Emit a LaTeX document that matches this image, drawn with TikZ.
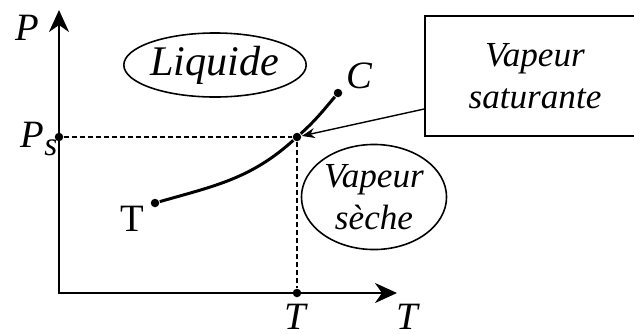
\documentclass[tikz,border=0pt]{standalone}
\usepackage{fontspec}
\setmainfont{Liberation Serif}[ItalicFont={Liberation Serif Italic}]
\usepackage{tikz}
\usetikzlibrary{arrows.meta,positioning,calc,shapes.geometric}

\tikzset{
  dot/.style={circle,fill,inner sep=0pt,minimum size=0.085cm},
  zone/.style={draw,ellipse,inner sep=0pt,line width=0.45pt,font=\itshape,align=center},
  axe/.style={line width=0.6pt,-{Stealth[length=0.22cm,width=0.2cm,inset=0.07cm]}},
  rappel/.style={dashed,line width=0.45pt,dash pattern=on 0.05cm off 0.03cm},
}

\begin{document}
\begin{tikzpicture}[x=0.01cm,y=-0.01cm,font=\fontsize{11}{13.5}\selectfont]
  \useasboundingbox (0,0) rectangle (634,333);
  % axes
  \coordinate (O) at (59,293);
  \coordinate (Ptop) at (59,10);
  \coordinate (Tend) at (397,293);
  \draw[axe] (O) -- (Ptop);
  \draw[axe] ([xshift=-0.01cm]O) -- (Tend);
  \node (Plab) at (27,28) {\textit{P}};
  \node[anchor=base] (Tlab) at (408,329) {\textit{T}};
  % points
  \node[dot] (ps) at (59,137) {};
  \node[dot] (sat) at (297,137) {};
  \node[dot] (tax) at (297,293) {};
  \node[dot] (tp) at (155,203) {};
  \node[dot] (crit) at (338,93) {};
  \node (pslab) at (39,139) {\textit{P}\raisebox{-2.4pt}{\fontsize{9.5}{10}\selectfont\textit{s}}};
  \node[anchor=base] (taxlab) at (296,329) {\textit{T}};
  \node (tplab) at (132,219) {T};
  \node (critlab) at (360,76) {\textit{C}};
  \draw[rappel] (ps) -- (sat);
  \draw[rappel] (sat) -- (tax);
  % courbe de vaporisation
  \draw[line width=0.85pt] (tp) to[out=16,in=-138] (sat) to[out=42,in=-130] (crit);
  % zones
  \node[zone,minimum width=1.45cm,minimum height=0.64cm,font=\itshape\fontsize{12}{14}\selectfont] (liq) at (215,65) {Liquide};
  \node[zone,minimum width=1.45cm,minimum height=1.05cm] (vap) at (374,197) {Vapeur\\sèche};
  \node[draw,line width=0.6pt,minimum width=2.2cm,minimum height=1.2cm,font=\itshape,align=center]
    (box) at (535,76) {Vapeur\\saturante};
  \draw[line width=0.4pt,-{Stealth[length=0.13cm,width=0.1cm]}] ([yshift=0.28cm]box.south west) -- (sat);
\end{tikzpicture}
\end{document}
